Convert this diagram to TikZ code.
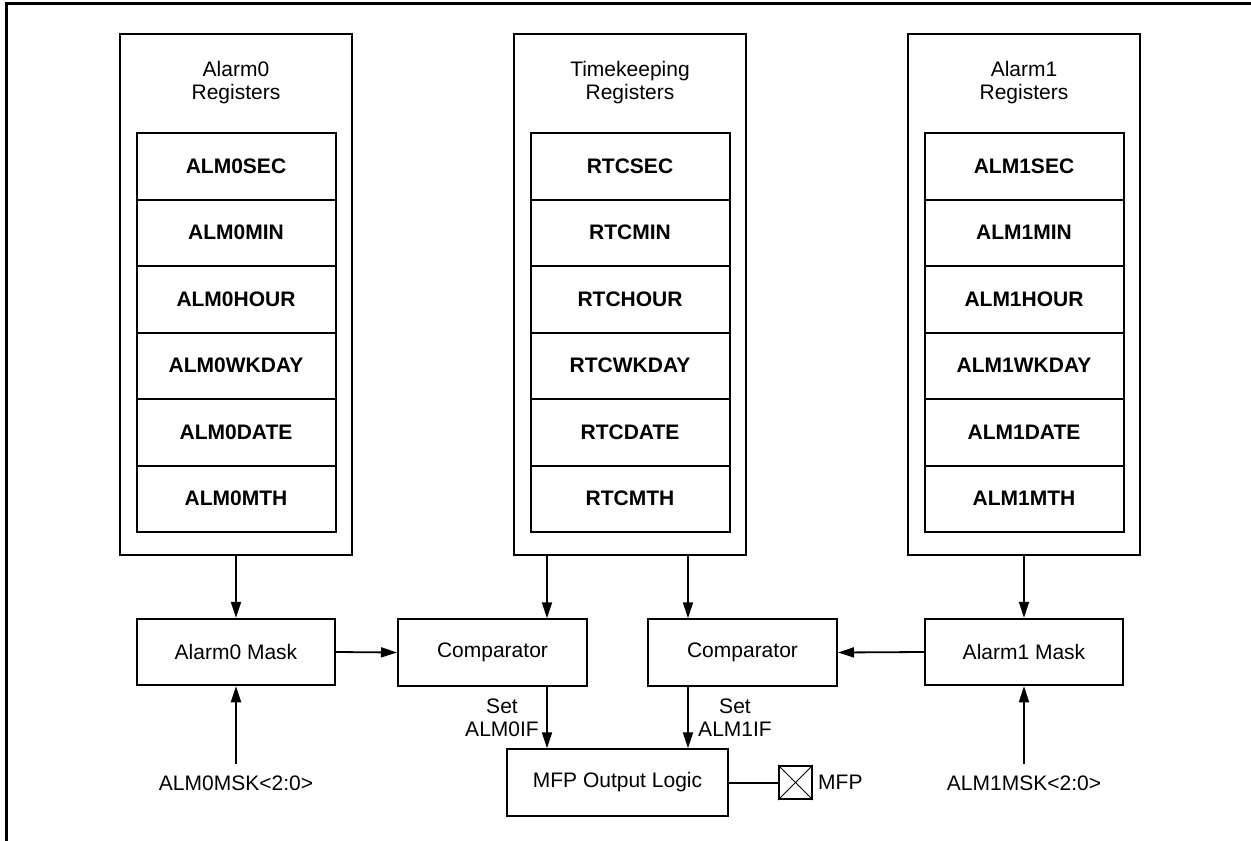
\documentclass[tikz,border=0pt]{standalone}
\usepackage{fontspec}
\setmainfont{Liberation Sans}
\usetikzlibrary{arrows.meta}
\begin{document}
\begin{tikzpicture}[x=1pt,y=-1pt,
 every node/.style={font=\fontsize{21}{23}\selectfont},
 lw/.style={line width=2pt},
 outerbox/.style={draw, line width=2pt, minimum width=232pt, minimum height=521pt, inner sep=0},
 reg/.style={draw, line width=2pt, minimum width=199pt, minimum height=66.5pt, inner sep=0, font=\fontsize{21}{23}\selectfont\bfseries},
 blk/.style={draw, line width=2pt, minimum height=66.5pt, inner sep=0},
 arr/.style={line width=1.8pt, -{Triangle[length=16pt,width=10pt]}},
 title/.style={align=center, inner sep=0},
]
\useasboundingbox (0,0) rectangle (1251,841);
\draw[line width=2.5pt] (6.5,841) -- (6.5,3.5) -- (1251,3.5);

% register groups
\node[outerbox] (a0) at (236,294.5) {};
\node[outerbox] (tk) at (630,294.5) {};
\node[outerbox] (a1) at (1024,294.5) {};
\node[title] (a0t) at (236,83) {Alarm0\\Registers};
\node[title] (tkt) at (630,83) {Timekeeping\\Registers};
\node[title] (a1t) at (1024,83) {Alarm1\\Registers};
\foreach \n [count=\i from 0] in {ALM0SEC,ALM0MIN,ALM0HOUR,ALM0WKDAY,ALM0DATE,ALM0MTH}
  \node[reg] (a0r\i) at (236,{166.25+66.5*\i}) {\n};
\foreach \n [count=\i from 0] in {RTCSEC,RTCMIN,RTCHOUR,RTCWKDAY,RTCDATE,RTCMTH}
  \node[reg] (tkr\i) at (630,{166.25+66.5*\i}) {\n};
\foreach \n [count=\i from 0] in {ALM1SEC,ALM1MIN,ALM1HOUR,ALM1WKDAY,ALM1DATE,ALM1MTH}
  \node[reg] (a1r\i) at (1024,{166.25+66.5*\i}) {\n};

% blocks
\node[blk, minimum width=198pt] (m0) at (236,652) {Alarm0 Mask};
\node[blk, minimum width=198pt] (m1) at (1024,652) {Alarm1 Mask};
\node[blk, minimum width=189pt] (c0) at (492.5,652.5) {Comparator};
\node[blk, minimum width=189pt] (c1) at (742.5,652.5) {Comparator};
\node[blk, minimum width=221pt] (mfp) at (617.5,782.5) {MFP Output Logic};
\node[draw, line width=2pt, minimum size=33pt, inner sep=0] (pin) at (795.5,782.5) {};
\draw[line width=1pt] (pin.north west) -- (pin.south east) (pin.north east) -- (pin.south west);
\node[anchor=west, inner sep=0] (pinl) at (818,782) {MFP};

% labels
\node (l0) at (236,783) {ALM0MSK<2:0>};
\node (l1) at (1024,783) {ALM1MSK<2:0>};
\node[title] (s0) at (502,717.5) {Set\\ALM0IF};
\node[title] (s1) at (735,717.5) {Set\\ALM1IF};

% connectors
\coordinate (x0) at (547,0);
\coordinate (x1) at (688,0);
\draw[arr] (a0.south) -- (m0.north);
\draw[arr] (a1.south) -- (m1.north);
\draw[arr] (m0.east) -- (c0.west);
\draw[arr] (m1.west) -- (c1.east);
\draw[arr] (tk.south -| x0) -- (c0.north -| x0);
\draw[arr] (tk.south -| x1) -- (c1.north -| x1);
\draw[arr] (c0.south -| x0) -- (mfp.north -| x0);
\draw[arr] (c1.south -| x1) -- (mfp.north -| x1);
\draw[arr] ([yshift=8pt]l0.north) -- (m0.south);
\draw[arr] ([yshift=8pt]l1.north) -- (m1.south);
\draw[lw] (mfp.east) -- (pin.west);
\end{tikzpicture}
\end{document}
